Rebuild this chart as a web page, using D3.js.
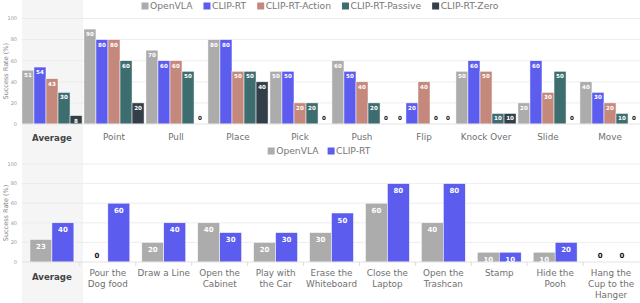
<!DOCTYPE html>
<html>
<head>
<meta charset="utf-8">
<script src="https://cdn.jsdelivr.net/npm/d3@7"></script>
<style>
  body { margin: 0; background: #fff; }
  svg { display: block; font-family: "DejaVu Sans", sans-serif; }
</style>
</head>
<body>
<div id="chart"></div>
<script>
// top panel data
const topCats = ["Average", "Point", "Pull", "Place", "Pick", "Push", "Flip", "Knock Over", "Slide", "Move"];
const topSeries = ["OpenVLA", "CLIP-RT", "CLIP-RT-Action", "CLIP-RT-Passive", "CLIP-RT-Zero"];
const openvlaTop = [51, 90, 70, 80, 50, 60, 0, 50, 20, 40];
const cliprtTop  = [54, 80, 60, 80, 50, 50, 20, 60, 60, 30];
const actionTop  = [43, 80, 60, 50, 20, 40, 40, 50, 30, 20];
const passiveTop = [30, 60, 50, 50, 20, 20, 0, 10, 50, 10];
const zeroTop    = [8, 20, 0, 40, 0, 0, 0, 10, 0, 0];

// bottom panel data
const botCats = ["Average", "Pour the\nDog food", "Draw a Line", "Open the\nCabinet", "Play with\nthe Car",
  "Erase the\nWhiteboard", "Close the\nLaptop", "Open the\nTrashcan", "Stamp", "Hide the\nPooh", "Hang the\nCup to the\nHanger"];
const botSeries = ["OpenVLA", "CLIP-RT"];
const openvlaBot = [23, 0, 20, 40, 20, 30, 60, 40, 10, 10, 0];
const cliprtBot  = [40, 60, 40, 30, 30, 50, 80, 80, 10, 20, 0];

const yTicks = [0, 20, 40, 60, 80, 100];

const colors = {
  "OpenVLA": "#acacac",
  "CLIP-RT": "#5c5cef",
  "CLIP-RT-Action": "#c4887d",
  "CLIP-RT-Passive": "#3e6d70",
  "CLIP-RT-Zero": "#323f48"
};

const W = 640, H = 303;
const svg = d3.select("#chart").append("svg")
    .attr("width", W)
    .attr("height", H);

// grey column behind "Average"
const xTop = d3.scaleBand().domain(topCats).range([21, 641]).paddingInner(0.03).paddingOuter(0.015);
svg.append("rect")
    .attr("x", xTop("Average"))
    .attr("y", 0)
    .attr("width", xTop.bandwidth() + 1)
    .attr("height", H)
    .attr("fill", "#f5f5f5");

function legend(items, cx, cy, gap) {
  const g = svg.append("g");
  let pos = 0;
  items.forEach(name => {
    const it = g.append("g").attr("transform", `translate(${pos},0)`);
    it.append("rect").attr("x", 0).attr("y", cy - 3.5).attr("width", 7).attr("height", 7)
        .attr("fill", colors[name]);
    const t = it.append("text").attr("x", 8.5).attr("y", cy + 3.2)
        .attr("font-size", 9.2).attr("fill", "#777").text(name);
    pos += 8.5 + t.node().getComputedTextLength() + gap;
  });
  const total = pos - gap;
  g.attr("transform", `translate(${cx - total / 2},0)`);
}

function panel(opts) {
  const {cats, series, values, x, y0, y1, labelSize, labelOff, lines} = opts;
  const y = d3.scaleLinear().domain([0, 100]).range([y0, y1]);
  const g = svg.append("g");

  // gridlines
  g.selectAll(".grid").data(yTicks.slice(1)).enter().append("line")
      .attr("x1", 22).attr("x2", W)
      .attr("y1", d => y(d)).attr("y2", d => y(d))
      .attr("stroke", "#e9e9e9").attr("stroke-width", 0.8);

  // y axis tick labels
  g.selectAll(".ytick").data(yTicks).enter().append("text")
      .attr("x", 17).attr("y", d => y(d) + 1.8)
      .attr("text-anchor", "end")
      .attr("font-size", 5).attr("fill", "#999")
      .text(d => d);

  g.append("text")
      .attr("transform", `translate(7.5,${(y0 + y1) / 2}) rotate(-90)`)
      .attr("text-anchor", "middle")
      .attr("font-size", 6.5).attr("fill", "#888")
      .text("Success Rate (%)");

  const xs = d3.scaleBand().domain(series).range([0, x.bandwidth()]);

  cats.forEach((c, i) => {
    const gg = g.append("g").attr("transform", `translate(${x(c)},0)`);
    series.forEach((s, j) => {
      const v = values[j][i];
      if (v > 0) {
        gg.append("rect")
            .attr("x", xs(s)).attr("y", y(v))
            .attr("width", xs.bandwidth()).attr("height", y(0) - y(v))
            .attr("fill", colors[s])
            .attr("stroke", "#fff").attr("stroke-width", 0.5);
        gg.append("text")
            .attr("x", xs(s) + xs.bandwidth() / 2)
            .attr("y", y(v) + labelOff)
            .attr("text-anchor", "middle")
            .attr("font-size", labelSize).attr("font-weight", "bold")
            .attr("fill", "#fff").text(v);
      } else {
        gg.append("text")
            .attr("x", xs(s) + xs.bandwidth() / 2)
            .attr("y", y(0) - 4)
            .attr("text-anchor", "middle")
            .attr("font-size", labelSize).attr("font-weight", "bold")
            .attr("fill", "#111").text(v);
      }
    });
  });

  // baseline
  g.append("line").attr("x1", 22).attr("x2", W)
      .attr("y1", y(0)).attr("y2", y(0))
      .attr("stroke", "#dcdcdc").attr("stroke-width", 0.8);

  // x tick labels
  const xl = g.append("g");
  cats.forEach((c, i) => {
    const t = xl.append("text")
        .attr("x", x(c) + x.bandwidth() / 2)
        .attr("text-anchor", "middle")
        .attr("font-size", i === 0 ? 8.6 : 8.8)
        .attr("font-weight", i === 0 ? "bold" : "normal")
        .attr("fill", i === 0 ? "#444" : "#707070");
    c.split("\n").forEach((ln, k) => {
      t.append("tspan").attr("x", x(c) + x.bandwidth() / 2)
          .attr("y", lines.y + k * lines.lh + (i === 0 ? lines.boldDy : 0))
          .text(ln);
    });
  });
  return {g, y};
}

// top chart
panel({
  cats: topCats, series: topSeries,
  values: [openvlaTop, cliprtTop, actionTop, passiveTop, zeroTop],
  x: xTop, y0: 124, y1: 18.5, labelSize: 5.6, labelOff: 7,
  lines: {y: 139.5, lh: 11, boldDy: 1.5}
});
legend(topSeries, 320, 6, 11);

// bottom chart
const xBot = d3.scaleBand().domain(botCats).range([24, 639]).paddingInner(0.215).paddingOuter(0.107);
const bot = panel({
  cats: botCats, series: botSeries,
  values: [openvlaBot, cliprtBot],
  x: xBot, y0: 262, y1: 164, labelSize: 7, labelOff: 9.5,
  lines: {y: 276, lh: 11, boldDy: 4}
});
// small ticks between categories on the bottom axis
const step = xBot.step();
bot.g.selectAll(".xtick").data(botCats.slice(1)).enter().append("line")
    .attr("x1", d => xBot(d) - step * 0.215 / 2).attr("x2", d => xBot(d) - step * 0.215 / 2)
    .attr("y1", 262).attr("y2", 266)
    .attr("stroke", "#d6d6d6").attr("stroke-width", 0.8);
legend(botSeries, 319, 151, 9);
</script>
</body>
</html>
